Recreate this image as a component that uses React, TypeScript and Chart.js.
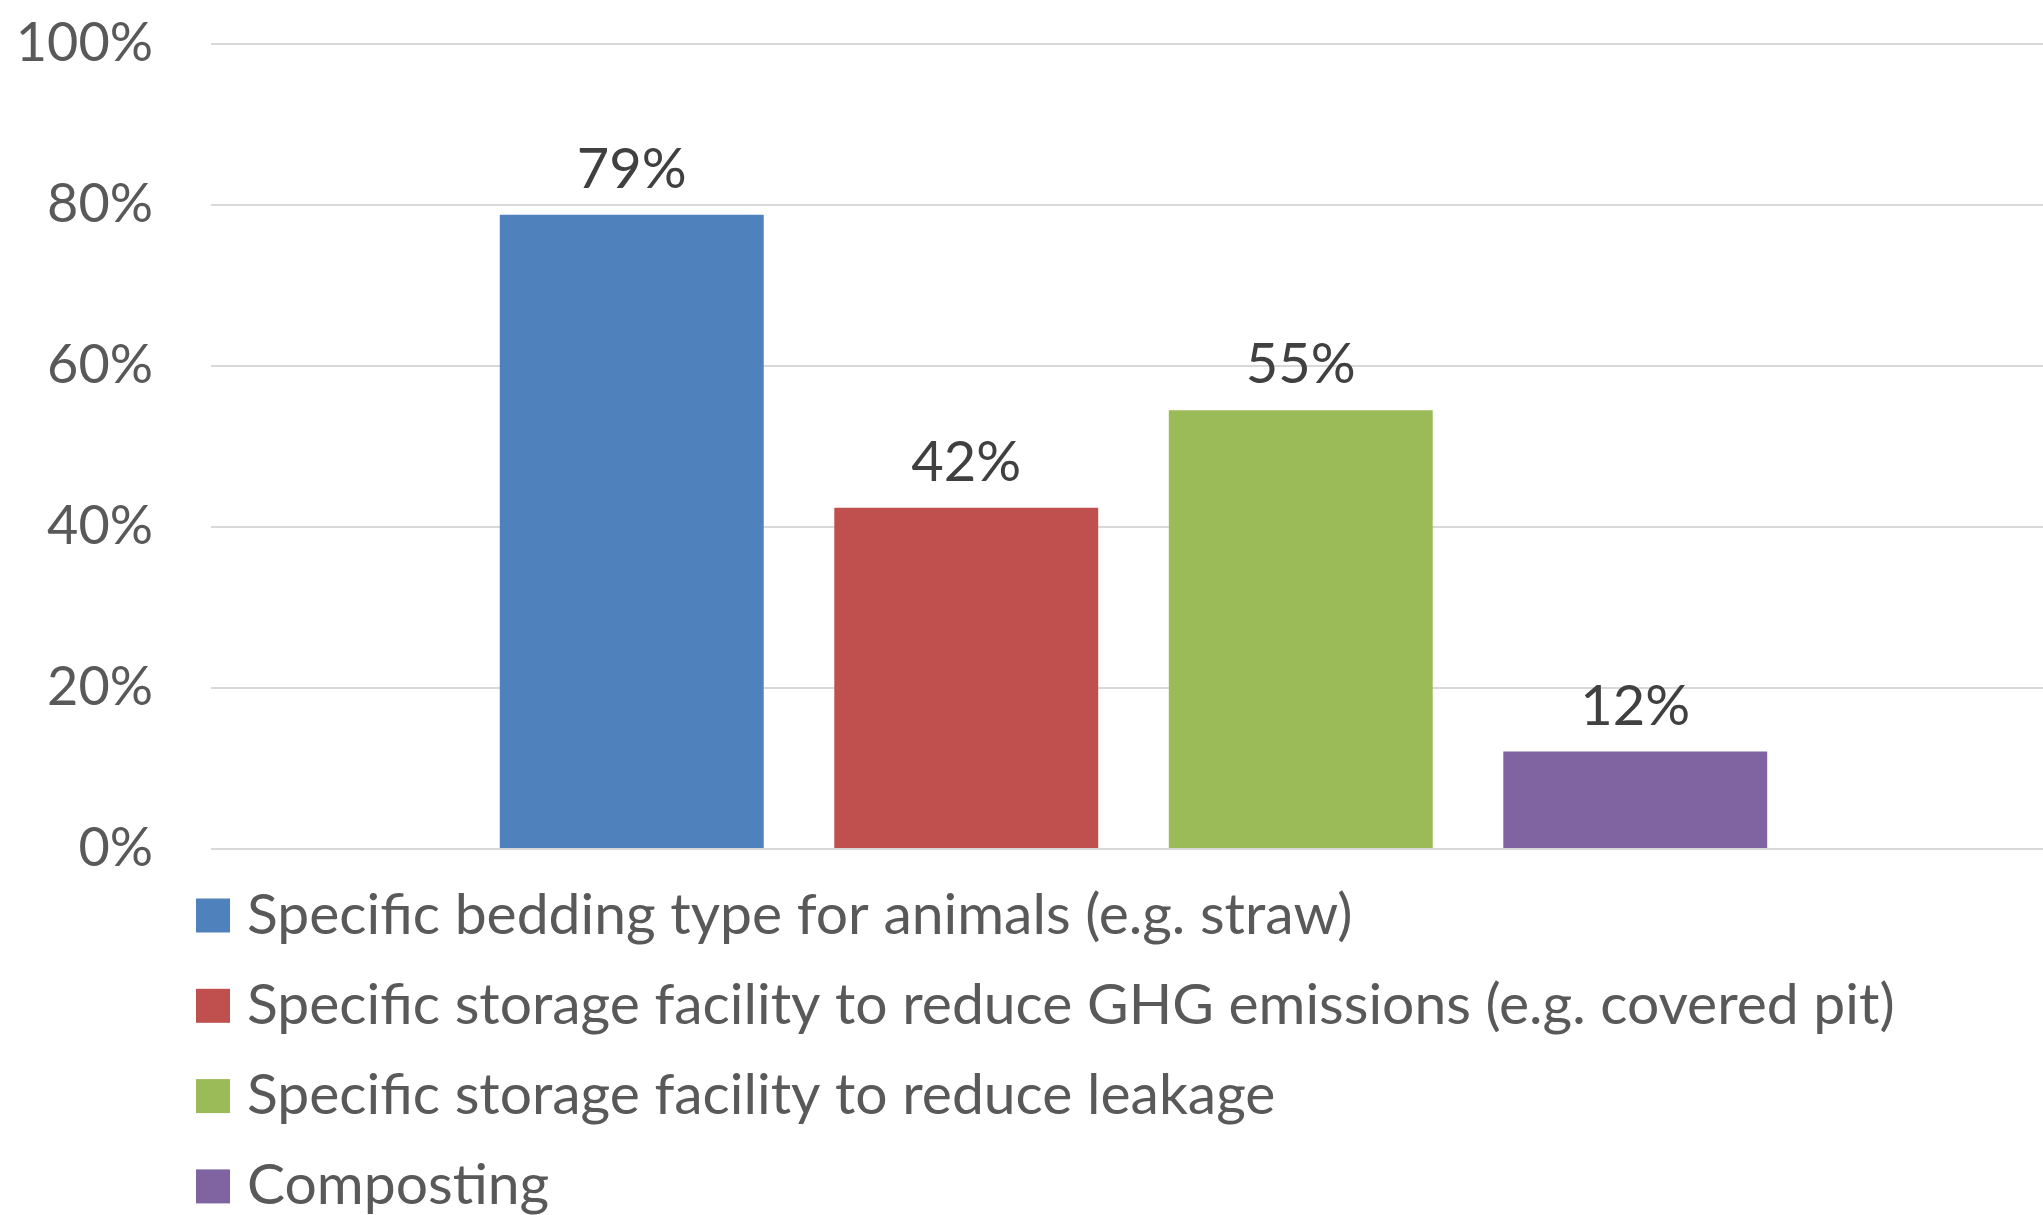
import React, { useEffect, useRef } from "react";
import { Chart, registerables } from "chart.js";

Chart.register(...registerables);

const categories: string[] = [""];
const seriesNames: string[] = [
  "Specific bedding type for animals (e.g. straw)",
  "Specific storage facility to reduce GHG emissions (e.g. covered pit)",
  "Specific storage facility to reduce leakage",
  "Composting",
];
const seriesValues: number[] = [78.8, 42.4, 54.5, 12.1];
const seriesColors: string[] = ["#4F81BD", "#C0504D", "#9BBB59", "#8064A2"];
const yTicks: number[] = [0, 20, 40, 60, 80, 100];

const FONT = "Lato, 'Open Sans', sans-serif";
const TICK_SIZE = 54;
const LABEL_SIZE = 56;
const LEGEND_SIZE = 57;

const dataLabelPlugin = {
  id: "dataLabels",
  afterDatasetsDraw(chart: any) {
    const ctx = chart.ctx;
    ctx.save();
    ctx.font = `${LABEL_SIZE}px ${FONT}`;
    ctx.fillStyle = "#404040";
    ctx.textAlign = "center";
    ctx.textBaseline = "alphabetic";
    chart.data.datasets.forEach((ds: any, i: number) => {
      const meta = chart.getDatasetMeta(i);
      meta.data.forEach((bar: any, j: number) => {
        const v = ds.data[j];
        ctx.fillText(`${Math.round(v)}%`, bar.x, bar.y - 27);
      });
    });
    ctx.restore();
  },
};

const legendPlugin = {
  id: "stackedLegend",
  afterDraw(chart: any) {
    const ctx = chart.ctx;
    const area = chart.chartArea;
    ctx.save();
    ctx.font = `${LEGEND_SIZE}px ${FONT}`;
    ctx.textAlign = "left";
    ctx.textBaseline = "alphabetic";
    const boxSize = 34;
    const boxLeft = 196;
    const rowGap = 90.3;
    const firstTop = area.bottom + 49.5;
    chart.data.datasets.forEach((ds: any, i: number) => {
      const top = firstTop + i * rowGap;
      ctx.fillStyle = ds.backgroundColor;
      ctx.fillRect(boxLeft, top, boxSize, boxSize);
      ctx.fillStyle = "#595959";
      ctx.fillText(ds.label, boxLeft + boxSize + 17, top + boxSize + 1);
    });
    ctx.restore();
  },
};

export default function App() {
  const canvasRef = useRef<HTMLCanvasElement | null>(null);

  useEffect(() => {
    document.body.style.margin = "0";
    document.body.style.overflow = "hidden";
    const canvas = canvasRef.current;
    if (!canvas) return;
    const chart = new Chart(canvas, {
      type: "bar",
      data: {
        labels: categories,
        datasets: seriesNames.map((name, i) => ({
          label: name,
          data: [seriesValues[i]],
          backgroundColor: seriesColors[i],
          borderWidth: 0,
          categoryPercentage: 0.7252,
          barPercentage: 0.789,
        })),
      },
      options: {
        animation: false,
        responsive: false,
        maintainAspectRatio: false,
        devicePixelRatio: 1,
        layout: { padding: { top: 44, bottom: 366, left: 0, right: 0 } },
        plugins: {
          legend: { display: false },
          tooltip: { enabled: false },
          title: { display: false },
        },
        scales: {
          x: { display: false },
          y: {
            min: 0,
            max: 100,
            afterBuildTicks: (scale: any) => {
              scale.ticks = yTicks.map((v) => ({ value: v }));
            },
            afterFit: (scale: any) => {
              scale.width = 211;
              scale.paddingTop = 0;
              scale.paddingBottom = 0;
            },
            border: { display: false },
            grid: { color: "#D9D9D9", lineWidth: 2, drawTicks: false },
            ticks: {
              padding: 58,
              color: "#595959",
              font: { family: FONT, size: TICK_SIZE },
              callback: (v: any) => `${v}%`,
            },
          },
        },
      },
      plugins: [dataLabelPlugin, legendPlugin],
    });
    return () => chart.destroy();
  }, []);

  return (
    <div style={{ width: 2043, height: 1215, overflow: "hidden", position: "relative", background: "#fff" }}>
      <canvas ref={canvasRef} width={2056} height={1215} style={{ display: "block", width: 2056, height: 1215 }} />
    </div>
  );
}
